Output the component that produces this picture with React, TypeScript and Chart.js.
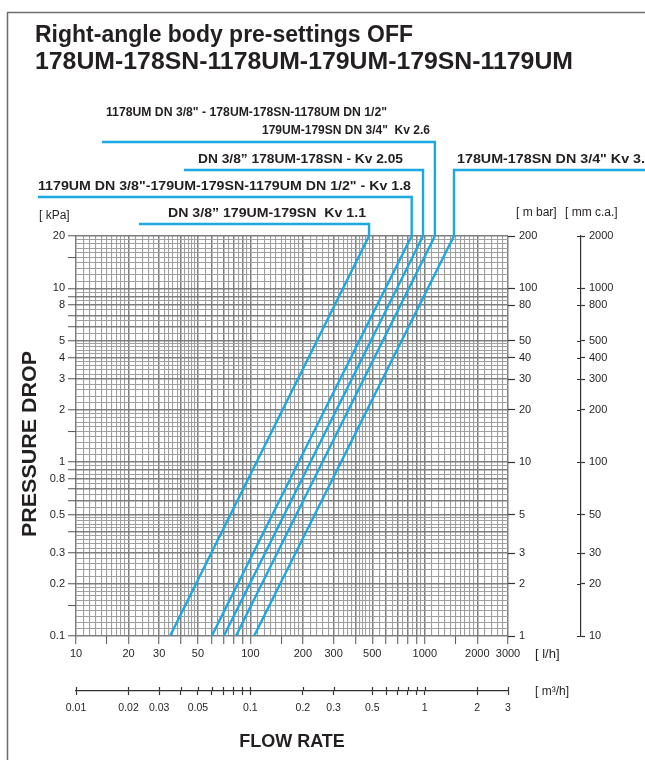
import React, { useEffect, useRef } from 'react';
import { Chart, registerables } from 'chart.js';

Chart.register(...registerables);

// ---------------- DATA ----------------
const FLOW_MIN = 10;
const FLOW_MAX = 3000;
const DP_MIN = 0.1;
const DP_MAX = 20;

const SERIES_NAMES = ['Kv 1.1', 'Kv 1.8', 'Kv 2.05', 'Kv 2.6', 'Kv 3.3'];
// flow rate [l/h] read where each line meets 0.1 kPa and 20 kPa
const FLOW_AT_DP_MIN = [34.6, 60, 70.4, 82.6, 105];
const FLOW_AT_DP_MAX = [479, 841, 977, 1143, 1470];

const SERIES_LABELS: string[][] = [
  ['DN 3/8\u201D 179UM-179SN  Kv 1.1'],
  ['1179UM DN 3/8"-179UM-179SN-1179UM DN 1/2" - Kv 1.8'],
  ['DN 3/8\u201D 178UM-178SN - Kv 2.05'],
  ['1178UM DN 3/8" - 178UM-178SN-1178UM DN 1/2"', '179UM-179SN DN 3/4"  Kv 2.6'],
  ['178UM-178SN DN 3/4" Kv 3.3'],
];

const TITLE_LINES = ['Right-angle body pre-settings OFF', '178UM-178SN-1178UM-179UM-179SN-1179UM'];
const Y_TITLE = 'PRESSURE DROP';
const X_TITLE = 'FLOW RATE';

// grid (graph paper) mantissas per decade
const GRID_MANTISSAS = [
  1, 1.1, 1.2, 1.3, 1.4, 1.5, 1.6, 1.7, 1.8, 1.9,
  2, 2.2, 2.4, 2.6, 2.8, 3, 3.2, 3.4, 3.6, 3.8, 4, 4.2, 4.4, 4.6, 4.8,
  5, 5.5, 6, 6.5, 7, 7.5, 8, 8.5, 9, 9.5,
];
const TICKMARK_MANTISSAS = [1, 1.5, 2, 3, 4, 5, 6, 7, 8, 9];
const FLOW_DECADES = [10, 100, 1000];
const DP_DECADES = [0.1, 1, 10];

const FLOW_LABELS = [10, 20, 30, 50, 100, 200, 300, 500, 1000, 2000, 3000];
const DP_LABELS = [0.1, 0.2, 0.3, 0.5, 0.8, 1, 2, 3, 4, 5, 8, 10, 20];
const MBAR_TICKS = [1, 2, 3, 5, 10, 20, 30, 40, 50, 80, 100, 200];
const MMCA_TICKS = [10, 20, 30, 50, 100, 200, 300, 400, 500, 800, 1000, 2000];
const M3H_TICKS = [0.01, 0.02, 0.03, 0.04, 0.05, 0.06, 0.07, 0.08, 0.09, 0.1, 0.2, 0.3, 0.5, 0.6, 0.7, 0.8, 0.9, 1, 2, 3];
const M3H_LABELS = [0.01, 0.02, 0.03, 0.05, 0.1, 0.2, 0.3, 0.5, 1, 2, 3];

// ---------------- LAYOUT / STYLE ----------------
const FONT = '"Liberation Sans", Arial, Helvetica, sans-serif';
const INK = '#231f20';
const BLUE = '#1ca8e0';
const GRID_MAJOR = '#7e7e7e';
const GRID_MINOR = '#9f9f9f';

// label placement: text lines [x, yCenter, width, fontSize], leader [yLevel, xEnd]
const LABEL_LAYOUT = [
  { lines: [[168, 213, 198, 13]], leaderY: 224, leaderX: 139 },
  { lines: [[38, 186, 373, 13]], leaderY: 197, leaderX: 38 },
  { lines: [[198, 159, 205, 13]], leaderY: 170, leaderX: 184 },
  { lines: [[106, 113, 281, 12], [262, 131, 168, 12]], leaderY: 142, leaderX: 102 },
  { lines: [[457, 159, 196, 13]], leaderY: 170, leaderX: 645 },
];

// ---------------- helpers ----------------
const same = (a: number, b: number) => Math.abs(a - b) <= Math.abs(b) * 1e-6;
const inList = (v: number, list: number[]) => list.some((a) => same(v, a));
const mantissa = (v: number) => {
  const e = Math.floor(Math.log10(v) + 1e-9);
  return v / Math.pow(10, e);
};
const buildGrid = (decades: number[], min: number, max: number) => {
  const out: number[] = [];
  decades.forEach((d) =>
    GRID_MANTISSAS.forEach((m) => {
      const v = parseFloat((d * m).toPrecision(8));
      if (v >= min * (1 - 1e-9) && v <= max * (1 + 1e-9)) out.push(v);
    })
  );
  if (!inList(max, out)) out.push(max);
  return out.sort((a, b) => a - b);
};
const isMarked = (v: number) => TICKMARK_MANTISSAS.some((m) => Math.abs(mantissa(v) - m) < 1e-6);
const isMajor = (v: number) => {
  const m = mantissa(v);
  return Math.abs(m - Math.round(m)) < 1e-6;
};
const setTicks = (list: number[]) => (scale: any) => {
  scale.ticks = list.map((value) => ({ value }));
};
const fmt = (v: number) => String(parseFloat(v.toPrecision(6)));

const FLOW_GRID = buildGrid(FLOW_DECADES, FLOW_MIN, FLOW_MAX);
const DP_GRID = buildGrid(DP_DECADES, DP_MIN, DP_MAX);

const primaryGrid = {
  display: true,
  drawOnChartArea: true,
  drawTicks: true,
  tickLength: 8,
  color: (c: any) => (c.tick && isMajor(c.tick.value) ? GRID_MAJOR : GRID_MINOR),
  lineWidth: (c: any) => (c.tick && isMajor(c.tick.value) ? 1.5 : 1.1),
  tickColor: (c: any) => (c.tick && isMarked(c.tick.value) ? '#555' : 'rgba(0,0,0,0)'),
  tickWidth: 1,
};

const secondaryGrid = (len: number) => ({
  display: true,
  drawOnChartArea: false,
  drawTicks: true,
  tickLength: len,
  tickColor: '#333',
  tickWidth: 1.2,
});

const tickFont = { family: FONT, size: 11 };

function fitText(ctx: CanvasRenderingContext2D, text: string, x: number, y: number, width: number, font: string) {
  ctx.font = font;
  const w = ctx.measureText(text).width;
  ctx.save();
  ctx.translate(x, y);
  if (width > 0 && w > 0) ctx.scale(width / w, 1);
  ctx.fillText(text, 0, 0);
  ctx.restore();
}

const decorPlugin = {
  id: 'decor',
  afterDraw(chart: any) {
    const ctx: CanvasRenderingContext2D = chart.ctx;
    const xs = chart.scales.x;
    const ys = chart.scales.y;
    const x2 = chart.scales.x2;
    const y3 = chart.scales.y3;
    const y2 = chart.scales.y2;
    ctx.save();

    // frame
    ctx.strokeStyle = '#6e6e6e';
    ctx.lineWidth = 1.5;
    ctx.beginPath();
    ctx.moveTo(7.5, 760);
    ctx.lineTo(7.5, 12.5);
    ctx.lineTo(645, 12.5);
    ctx.stroke();

    // title
    ctx.fillStyle = INK;
    ctx.textBaseline = 'middle';
    ctx.textAlign = 'left';
    fitText(ctx, TITLE_LINES[0], 35, 36, 378, `bold 23px ${FONT}`);
    fitText(ctx, TITLE_LINES[1], 35, 63, 538, `bold 23px ${FONT}`);

    // y-axis title (rotated)
    ctx.save();
    ctx.translate(30, ys.top + (ys.bottom - ys.top) / 2 + 8);
    ctx.rotate(-Math.PI / 2);
    ctx.textAlign = 'left';
    fitText(ctx, Y_TITLE, -93, 0, 186, `bold 20px ${FONT}`);
    ctx.restore();

    // unit labels
    const unitFont = `12px ${FONT}`;
    fitText(ctx, '[ kPa]', 39, ys.top - 20, 0, unitFont);
    fitText(ctx, '[ m bar]', y2.left + 8, ys.top - 23, 0, unitFont);
    fitText(ctx, '[ mm c.a.]', y3.left - 16, ys.top - 23, 0, unitFont);
    fitText(ctx, '[ l/h]', xs.right + 27, xs.top + 18, 0, `13px ${FONT}`);
    fitText(ctx, '[ m\u00B3/h]', x2.right + 27, x2.top + 1, 0, `12px ${FONT}`);

    // leaders and series labels
    const yTop = ys.getPixelForValue(DP_MAX);
    ctx.strokeStyle = BLUE;
    ctx.lineWidth = 2.4;
    ctx.lineJoin = 'miter';
    FLOW_AT_DP_MAX.forEach((q, i) => {
      const L = LABEL_LAYOUT[i];
      const xt = xs.getPixelForValue(q);
      ctx.beginPath();
      ctx.moveTo(xt, yTop);
      ctx.lineTo(xt, L.leaderY);
      ctx.lineTo(L.leaderX, L.leaderY);
      ctx.stroke();
      SERIES_LABELS[i].forEach((t, k) => {
        const [lx, ly, lw, fs] = L.lines[k];
        ctx.fillStyle = INK;
        fitText(ctx, t, lx, ly, lw, `bold ${fs}px ${FONT}`);
      });
    });

    // crossing tick halves for m3/h and mm c.a. axes
    ctx.strokeStyle = '#333';
    ctx.lineWidth = 1.2;
    ctx.beginPath();
    x2.ticks.forEach((t: any) => {
      const px = Math.round(x2.getPixelForValue(t.value)) + 0.5;
      ctx.moveTo(px, x2.top - 4);
      ctx.lineTo(px, x2.top);
    });
    y3.ticks.forEach((t: any) => {
      const py = Math.round(y3.getPixelForValue(t.value)) + 0.5;
      ctx.moveTo(y3.left - 4, py);
      ctx.lineTo(y3.left, py);
    });
    ctx.stroke();
    ctx.restore();
  },
};

export default function App() {
  const ref = useRef<HTMLCanvasElement>(null);

  useEffect(() => {
    if (!ref.current) return;
    Chart.defaults.font.family = FONT;
    Chart.defaults.color = INK;

    const datasets = SERIES_NAMES.map((name, i) => ({
      label: name,
      data: [
        { x: FLOW_AT_DP_MIN[i], y: DP_MIN },
        { x: FLOW_AT_DP_MAX[i], y: DP_MAX },
      ],
      borderColor: BLUE,
      backgroundColor: BLUE,
      borderWidth: 2.4,
      pointRadius: 0,
      fill: false,
      tension: 0,
      xAxisID: 'x',
      yAxisID: 'y',
    }));

    const chart = new Chart(ref.current, {
      type: 'line',
      data: { datasets },
      options: {
        responsive: false,
        animation: false,
        events: [],
        layout: { padding: { top: 236, left: 0, right: 0, bottom: 0 } },
        plugins: { legend: { display: false }, tooltip: { enabled: false }, title: { display: false } },
        scales: {
          x: {
            type: 'logarithmic',
            position: 'bottom',
            weight: 0,
            min: FLOW_MIN,
            max: FLOW_MAX,
            afterBuildTicks: setTicks(FLOW_GRID),
            afterFit: (s: any) => { s.height = 55; },
            grid: primaryGrid,
            border: { display: false },
            ticks: {
              autoSkip: false, maxRotation: 0, minRotation: 0, padding: 3, font: tickFont, color: INK,
              callback: (v: any) => (inList(Number(v), FLOW_LABELS) ? fmt(Number(v)) : ''),
            },
          },
          x2: {
            type: 'logarithmic',
            position: 'bottom',
            weight: 1,
            min: 0.01,
            max: 3,
            afterBuildTicks: setTicks(M3H_TICKS),
            afterFit: (s: any) => { s.height = 69; },
            grid: secondaryGrid(4),
            border: { display: true, color: '#333', width: 1.2 },
            title: { display: true, text: X_TITLE, font: { size: 18, weight: 'bold', family: FONT }, color: INK, padding: { top: 0, bottom: 7 } },
            ticks: {
              autoSkip: false, maxRotation: 0, minRotation: 0, padding: 7, font: { family: FONT, size: 10.5 }, color: INK,
              callback: (v: any) => (inList(Number(v), M3H_LABELS) ? fmt(Number(v)) : ''),
            },
          },
          y: {
            type: 'logarithmic',
            position: 'left',
            min: DP_MIN,
            max: DP_MAX,
            afterBuildTicks: setTicks(DP_GRID),
            afterFit: (s: any) => { s.width = 76; },
            grid: primaryGrid,
            border: { display: false },
            title: { display: false },
            ticks: {
              autoSkip: false, padding: 3, font: tickFont, color: INK,
              callback: (v: any) => (inList(Number(v), DP_LABELS) ? fmt(Number(v)) : ''),
            },
          },
          y2: {
            type: 'logarithmic',
            position: 'right',
            weight: 0,
            min: 1,
            max: 200,
            afterBuildTicks: setTicks(MBAR_TICKS),
            afterFit: (s: any) => { s.width = 73; },
            grid: secondaryGrid(7),
            border: { display: false },
            ticks: {
              autoSkip: false, padding: 4, font: tickFont, color: INK,
              callback: (v: any) => fmt(Number(v)),
            },
          },
          y3: {
            type: 'logarithmic',
            position: 'right',
            weight: 1,
            min: 10,
            max: 2000,
            afterBuildTicks: setTicks(MMCA_TICKS),
            afterFit: (s: any) => { s.width = 64; },
            grid: secondaryGrid(4),
            border: { display: true, color: '#333', width: 1.2 },
            ticks: {
              autoSkip: false, padding: 4, font: tickFont, color: INK,
              callback: (v: any) => fmt(Number(v)),
            },
          },
        },
      } as any,
      plugins: [decorPlugin],
    });
    return () => chart.destroy();
  }, []);

  return (
    <div style={{ position: 'absolute', left: 0, top: 0, width: 645, height: 760, background: '#fff' }}>
      <canvas ref={ref} width={645} height={760} style={{ display: 'block', width: 645, height: 760 }} />
    </div>
  );
}
